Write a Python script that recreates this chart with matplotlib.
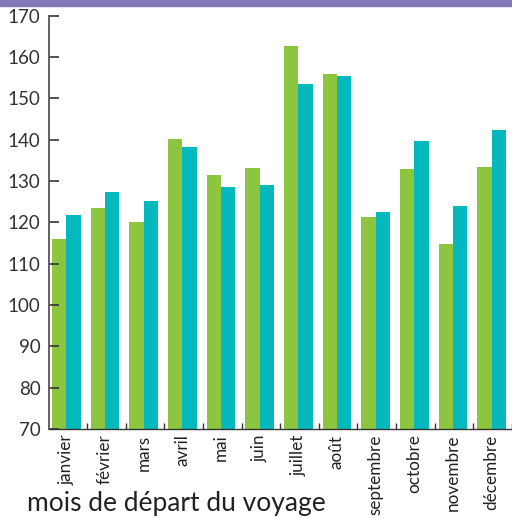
import numpy as np
import matplotlib.pyplot as plt
from matplotlib.patches import Rectangle

months = ['janvier', 'février', 'mars', 'avril', 'mai', 'juin', 'juillet',
          'août', 'septembre', 'octobre', 'novembre', 'décembre']
serie_a = [116.0, 123.4, 120.0, 140.2, 131.4, 133.2, 162.6, 155.8, 121.4, 132.9, 114.8, 133.3]
serie_b = [121.8, 127.3, 125.2, 138.3, 128.5, 129.0, 153.5, 155.4, 122.5, 139.6, 123.9, 142.3]
yticks = [70, 80, 90, 100, 110, 120, 130, 140, 150, 160, 170]

plt.rcParams['font.family'] = ['Lato', 'DejaVu Sans']

fig = plt.figure(figsize=(5.12, 5.18), dpi=100)
ax = fig.add_axes([0.0957, 0.1718, 0.9043, 0.798])

x = np.arange(len(months))
w = 0.37
ax.bar(x - w / 2, [v - 70 for v in serie_a], w, bottom=70, color='#8cc63f', linewidth=0)
ax.bar(x + w / 2, [v - 70 for v in serie_b], w, bottom=70, color='#04b9bd', linewidth=0)

ax.set_ylim(70, 170)
ax.set_xlim(-0.452, 11.31)
ax.set_yticks(yticks)
ax.set_yticklabels([str(t) for t in yticks], fontsize=13.5, color='#333333')
ax.tick_params(axis='y', direction='in', length=7, width=1.2, color='#333333', pad=6)

ax.set_xticks(x)
ax.set_xticklabels(months, rotation=90, fontsize=12.3, color='#222222', va='top')
ax.tick_params(axis='x', which='major', length=0, pad=4)
ax.set_xticks(x + 0.53, minor=True)
ax.tick_params(axis='x', which='minor', direction='in', length=4, width=1, color='#333333')

for s in ['top', 'right']:
    ax.spines[s].set_visible(False)
ax.spines['left'].set_color('#555555')
ax.spines['left'].set_linewidth(1.3)
ax.spines['bottom'].set_color('#333333')
ax.spines['bottom'].set_linewidth(1)

fig.text(27 / 512, 1 - 511 / 518, 'mois de départ du voyage', fontsize=19,
         color='#222222', va='baseline', ha='left')

fig.patches.append(Rectangle((0, 1 - 6 / 518), 1, 6 / 518, transform=fig.transFigure,
                             color='#8379b9', zorder=5))

plt.savefig('out.png', dpi=100)
